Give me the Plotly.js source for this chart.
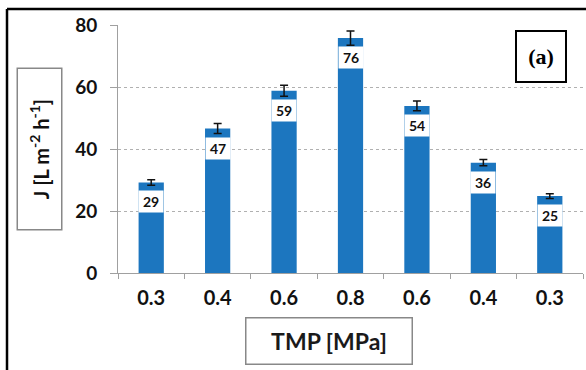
<!DOCTYPE html>
<html>
<head>
<meta charset="utf-8">
<script src="https://cdn.plot.ly/plotly-3.0.1.min.js"></script>
<style>html,body{margin:0;padding:0;background:#fff;}#chart{width:586px;height:370px;}</style>
</head>
<body>
<div id="chart"></div>
<script>
// Data
const tmpLabels = ["0.3", "0.4", "0.6", "0.8", "0.6", "0.4", "0.3"];
const fluxValues = [29.2, 46.6, 58.8, 75.8, 53.9, 35.6, 24.8];
const fluxErrors = [0.9, 1.6, 1.8, 2.3, 1.6, 1.0, 0.8];
const yTicks = [0, 20, 40, 60, 80];

const positions = tmpLabels.map((_, i) => i);

const trace = {
  type: "bar",
  x: positions,
  y: fluxValues,
  width: 0.38,
  marker: { color: "#1c76bf" },
  error_y: { type: "data", array: fluxErrors, visible: true, color: "#111", thickness: 1.5, width: 4 },
  hoverinfo: "skip"
};

const fontFam = "Lato, 'Open Sans', sans-serif";

const labelAnnotations = fluxValues.map((v, i) => ({
  x: positions[i], y: v, xref: "x", yref: "y",
  yanchor: "top", yshift: -8,
  text: "<b>" + Math.round(v) + "</b>",
  showarrow: false,
  bgcolor: "#ffffff",
  width: 20, height: 17, borderpad: 2,
  font: { family: fontFam, size: 14, color: "#111" }
}));

const layout = {
  width: 586, height: 370,
  margin: { l: 118, r: 3, t: 25, b: 97 },
  paper_bgcolor: "#ffffff", plot_bgcolor: "#ffffff",
  showlegend: false,
  xaxis: {
    range: [-0.5, 6.5],
    tickmode: "array", tickvals: positions, ticktext: tmpLabels,
    ticks: "", ticklen: 0,
    showline: true, linecolor: "#a0a0a0", linewidth: 1,
    showgrid: false, zeroline: false,
    tickfont: { family: fontFam, size: 20, color: "#111", weight: "bold" },
    ticklabelstandoff: 7,
    minor: { tick0: -0.5, dtick: 1, ticks: "outside", ticklen: 5, tickcolor: "#a0a0a0", showgrid: false },
    fixedrange: true
  },
  yaxis: {
    range: [0, 80],
    tickmode: "array", tickvals: yTicks,
    ticks: "outside", ticklen: 7, tickcolor: "#a0a0a0",
    showline: true, linecolor: "#a0a0a0", linewidth: 1,
    showgrid: true, gridcolor: "#b0b0b0", griddash: "dot", gridwidth: 1,
    zeroline: false,
    tickfont: { family: fontFam, size: 19, color: "#111", weight: "bold" },
    ticklabelstandoff: 9,
    fixedrange: true
  },
  shapes: [
    { type: "line", xref: "paper", yref: "paper", x0: -0.2387, x1: -0.2387, y0: -0.5, y1: 1.0645, line: { color: "#000", width: 2.5 } },
    { type: "line", xref: "paper", yref: "paper", x0: -0.2387, x1: 1.2, y0: 1.0645, y1: 1.0645, line: { color: "#000", width: 2.5 } }
  ],
  annotations: labelAnnotations.concat([
    {
      xref: "paper", yref: "paper", x: -0.1688, y: 0.5,
      xanchor: "center", yanchor: "middle",
      textangle: -90,
      text: "<b>J [L m<sup>-2</sup> h<sup>-1</sup>]</b>",
      showarrow: false,
      width: 154, height: 37, borderpad: 3,
      bordercolor: "#888", borderwidth: 1.5, bgcolor: "#fff",
      font: { family: fontFam, size: 20, color: "#111" }
    },
    {
      xref: "paper", yref: "paper", x: 0.4527, y: -0.2762,
      xanchor: "center", yanchor: "middle",
      text: "<b>TMP [MPa]</b>",
      showarrow: false,
      width: 160, height: 40, borderpad: 2.5,
      bordercolor: "#888", borderwidth: 1.5, bgcolor: "#fff",
      font: { family: fontFam, size: 23, color: "#1a1a1a" }
    },
    {
      xref: "paper", yref: "paper", x: 0.9097, y: 0.873,
      xanchor: "center", yanchor: "middle",
      text: "<b>(a)</b>",
      showarrow: false,
      width: 44, height: 45, borderpad: 2,
      bordercolor: "#000", borderwidth: 2, bgcolor: "#fff",
      font: { family: "'Liberation Serif', 'DejaVu Serif', serif", size: 22, color: "#000" }
    }
  ])
};

Plotly.newPlot("chart", [trace], layout, { displayModeBar: false, staticPlot: true });
</script>
</body>
</html>
